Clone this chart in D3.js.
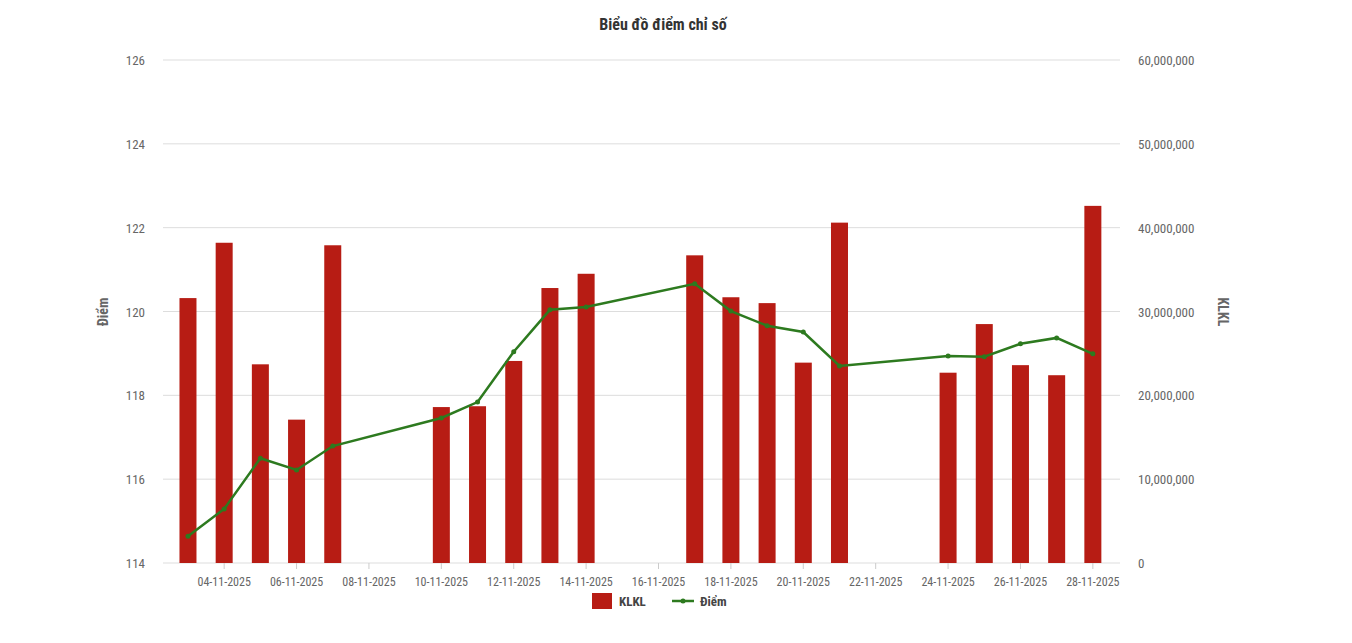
<!DOCTYPE html>
<html><head><meta charset="utf-8">
<script src="https://cdn.jsdelivr.net/npm/d3@7"></script>
<style>body{margin:0;background:#fff}svg{font-family:"Liberation Sans Narrow","Roboto Condensed","Liberation Sans",sans-serif}</style>
</head><body><svg id="c" width="1352" height="643"></svg>
<script>
const dates=["03-11-2025","04-11-2025","05-11-2025","06-11-2025","07-11-2025","10-11-2025","11-11-2025","12-11-2025","13-11-2025","14-11-2025","17-11-2025","18-11-2025","19-11-2025","20-11-2025","21-11-2025","24-11-2025","25-11-2025","26-11-2025","27-11-2025","28-11-2025"];
const klkl=[31.6e6,38.2e6,23.7e6,17.1e6,37.9e6,18.6e6,18.7e6,24.1e6,32.8e6,34.5e6,36.7e6,31.7e6,31.0e6,23.9e6,40.6e6,22.7e6,28.5e6,23.6e6,22.4e6,42.6e6];
const diem=[114.64,115.29,116.5,116.22,116.79,117.46,117.84,119.04,120.04,120.11,120.66,120.01,119.66,119.51,118.70,118.94,118.92,119.23,119.37,118.99];
const xTickLabels=["04-11-2025","06-11-2025","08-11-2025","10-11-2025","12-11-2025","14-11-2025","16-11-2025","18-11-2025","20-11-2025","22-11-2025","24-11-2025","26-11-2025","28-11-2025"];
const leftTicks=[114,116,118,120,122,124,126];
const rightTicks=[0,10e6,20e6,30e6,40e6,50e6,60e6];

const svg=d3.select("#c");
const L=163,R=1120,T=60,B=563;
const day=s=>+s.slice(0,2);
const x=d3.scaleLinear().domain([2.31,28.75]).range([L,R]);
const yL=d3.scaleLinear().domain([114,126]).range([B,T]);
const yR=d3.scaleLinear().domain([0,60e6]).range([B,T]);
const gray="#666";
svg.append("text").attr("x",663).attr("y",30).attr("text-anchor","middle").attr("font-size",16).attr("font-weight","bold").attr("fill","#333").text("Biểu đồ điểm chỉ số");
svg.append("g").selectAll("line").data(leftTicks).join("line").attr("x1",L).attr("x2",R).attr("y1",d=>yL(d)).attr("y2",d=>yL(d)).attr("stroke","#ddd");
svg.append("g").selectAll("text").data(leftTicks).join("text").attr("x",145).attr("y",d=>yL(d)+5).attr("text-anchor","end").attr("font-size",13).attr("fill",gray).text(d=>d);
svg.append("g").selectAll("text").data(rightTicks).join("text").attr("x",1138).attr("y",d=>yR(d)+5).attr("font-size",13).attr("fill",gray).text(d=>d3.format(",")(d));
svg.append("g").selectAll("text").data(xTickLabels).join("text").attr("x",d=>x(day(d))).attr("y",586).attr("text-anchor","middle").attr("font-size",12).attr("fill",gray).text(d=>d);
svg.append("g").selectAll("line").data(xTickLabels).join("line").attr("x1",d=>x(day(d))).attr("x2",d=>x(day(d))).attr("y1",B).attr("y2",B+6).attr("stroke","#ccc");
svg.append("text").attr("transform","translate(108,312) rotate(-90)").attr("text-anchor","middle").attr("font-size",14).attr("font-weight","bold").attr("fill",gray).text("Điểm");
svg.append("text").attr("transform","translate(1218,312) rotate(90)").attr("text-anchor","middle").attr("font-size",14).attr("font-weight","bold").attr("fill",gray).text("KLKL");
const bw=17;
svg.append("g").selectAll("rect").data(dates).join("rect").attr("x",d=>x(day(d))-bw/2).attr("width",bw).attr("y",(d,i)=>yR(klkl[i])).attr("height",(d,i)=>B-yR(klkl[i])).attr("fill","#b71c14");
const line=d3.line().x((d,i)=>x(day(dates[i]))).y(d=>yL(d));
svg.append("path").datum(diem).attr("d",line).attr("fill","none").attr("stroke","#2d7a1f").attr("stroke-width",2.5);
svg.append("g").selectAll("circle").data(diem).join("circle").attr("cx",(d,i)=>x(day(dates[i]))).attr("cy",d=>yL(d)).attr("r",2.5).attr("fill","#2d7a1f");
const lg=svg.append("g");
lg.append("rect").attr("x",592).attr("y",593).attr("width",20).attr("height",16).attr("fill","#b71c14");
lg.append("text").attr("x",619).attr("y",606).attr("font-size",13).attr("font-weight","bold").attr("fill","#444").text("KLKL");
lg.append("line").attr("x1",672).attr("x2",694).attr("y1",601).attr("y2",601).attr("stroke","#2d7a1f").attr("stroke-width",2.5);
lg.append("circle").attr("cx",683).attr("cy",601).attr("r",2.5).attr("fill","#2d7a1f");
lg.append("text").attr("x",700).attr("y",606).attr("font-size",13).attr("font-weight","bold").attr("fill","#444").text("Điểm");
</script></body></html>
